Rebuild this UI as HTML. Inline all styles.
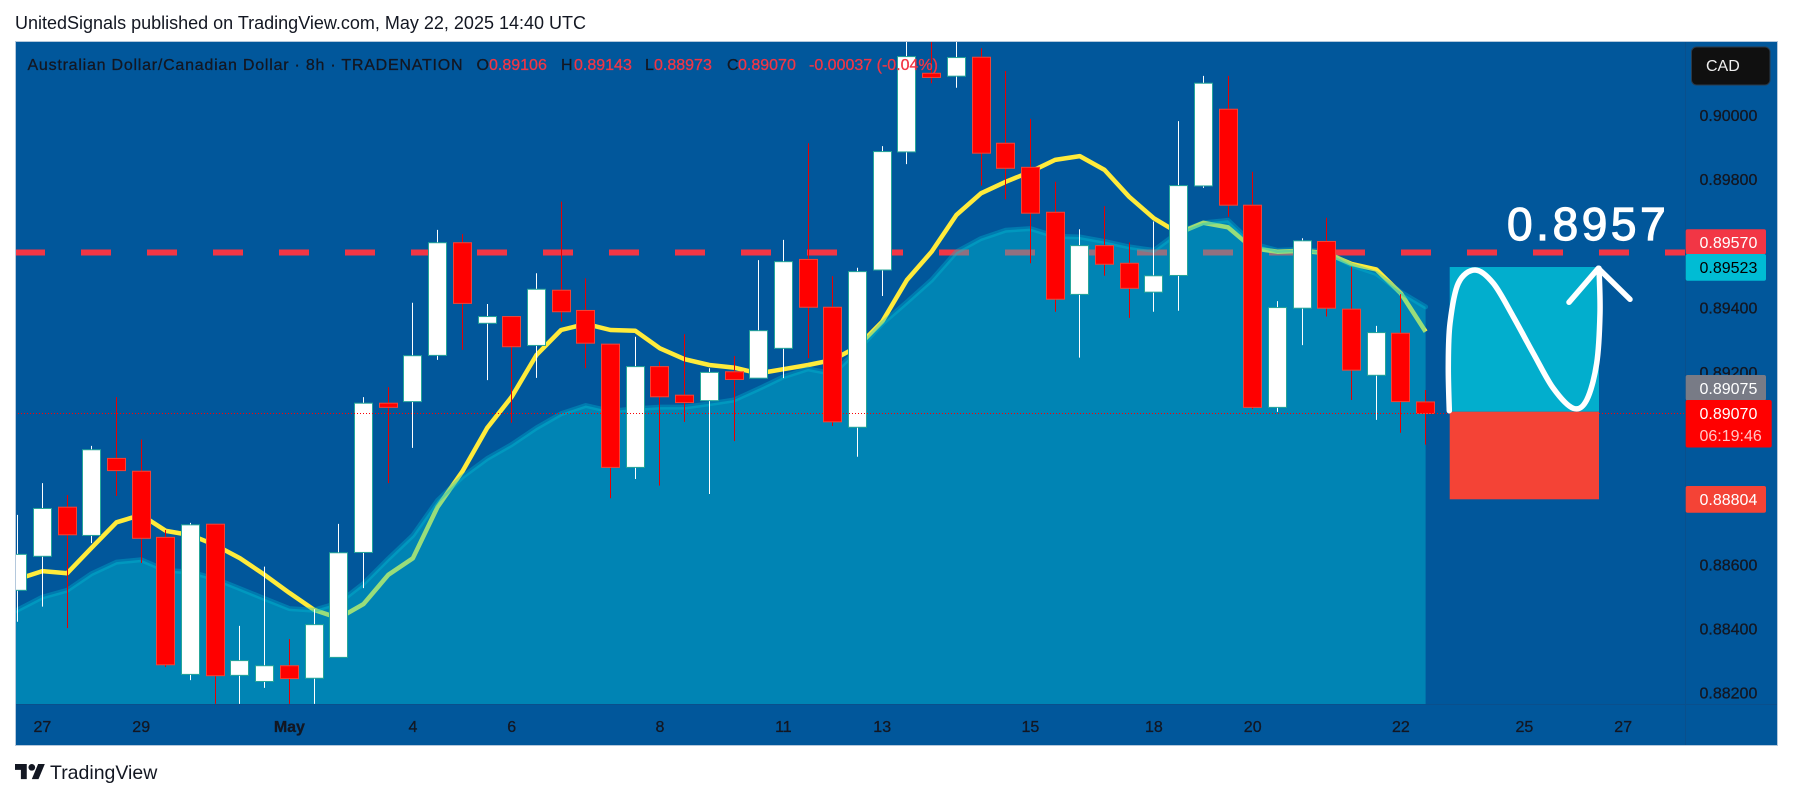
<!DOCTYPE html>
<html>
<head>
<meta charset="utf-8">
<title>AUD/CAD chart</title>
<style>
html,body{margin:0;padding:0;background:#fff;width:1793px;height:799px;overflow:hidden}
svg{display:block}
text{font-family:"Liberation Sans",sans-serif}
</style>
</head>
<body>
<svg id="chart" width="1793" height="799" viewBox="0 0 1793 799" xmlns="http://www.w3.org/2000/svg">
  <defs>
    <clipPath id="pane"><rect x="16" y="42" width="1669" height="662"/></clipPath>
  </defs>
  <rect x="0" y="0" width="1793" height="799" fill="#ffffff"/>
  <text x="15" y="29" font-size="18" fill="#131722">UnitedSignals published on TradingView.com, May 22, 2025 14:40 UTC</text>
  <rect x="15.5" y="41.5" width="1762" height="704" fill="#01579b" stroke="#b4c8dc" stroke-width="1"/>
  <g id="plot" clip-path="url(#pane)"></g>
  <line x1="16" y1="704.5" x2="1777" y2="704.5" stroke="#0a4f8c" stroke-width="1"/>
  <line x1="1685.5" y1="42" x2="1685.5" y2="745" stroke="#0a4f8c" stroke-width="1"/>

  <rect x="1449.7" y="267" width="149.3" height="144.7" fill="#02aecd"/>
  <rect x="1449.7" y="411.7" width="149.3" height="87.6" fill="#f44336"/>
  <path id="curve" fill="none" stroke="#ffffff" stroke-width="5.5" stroke-linecap="round" stroke-linejoin="round"/>
  <path d="M1569 302.3 L1598.3 268.3 L1630 299.3" fill="none" stroke="#ffffff" stroke-width="5.5" stroke-linecap="round" stroke-linejoin="round"/>
  <text x="1507" y="240" font-size="46" letter-spacing="3.6" fill="#ffffff" stroke="#ffffff" stroke-width="1.2">0.8957</text>

  <g font-size="16" stroke-width="0.3">
    <text x="27.5" y="70" fill="#131722" stroke="#131722" textLength="435">Australian Dollar/Canadian Dollar · 8h · TRADENATION</text>
    <text x="476.5" y="70" fill="#131722" stroke="#131722">O</text>
    <text x="489" y="70" fill="#f23645" stroke="#f23645">0.89106</text>
    <text x="561" y="70" fill="#131722" stroke="#131722">H</text>
    <text x="574" y="70" fill="#f23645" stroke="#f23645">0.89143</text>
    <text x="645" y="70" fill="#131722" stroke="#131722">L</text>
    <text x="654" y="70" fill="#f23645" stroke="#f23645">0.88973</text>
    <text x="727" y="70" fill="#131722" stroke="#131722">C</text>
    <text x="738" y="70" fill="#f23645" stroke="#f23645">0.89070</text>
    <text x="809" y="70" fill="#f23645" stroke="#f23645">-0.00037 (-0.04%)</text>
  </g>

  <g id="xaxis" font-size="16" fill="#131722" stroke="#131722" stroke-width="0.3"></g>
  <g id="yaxis" font-size="16" fill="#131722" stroke="#131722" stroke-width="0.3"></g>

  <g>
    <rect x="1691.5" y="47" width="78.5" height="38" rx="5" fill="#101010" stroke="#2a3a4a" stroke-width="1"/>
    <text x="1706" y="71" font-size="16" fill="#eeeeee">CAD</text>
  </g>

  <g font-size="16">
    <rect x="1685.7" y="229.3" width="80.3" height="25" rx="2" fill="#f23645"/>
    <text x="1699.5" y="248" fill="#ffffff">0.89570</text>
    <rect x="1685.7" y="254" width="80.3" height="26.7" rx="2" fill="#00bcd4"/>
    <text x="1699.5" y="273" fill="#000000">0.89523</text>
    <rect x="1685.7" y="375" width="80.3" height="25.5" rx="2" fill="#787b86"/>
    <text x="1699.5" y="394" fill="#ffffff">0.89075</text>
    <rect x="1685.7" y="400" width="86" height="47.5" rx="2" fill="#ff0000"/>
    <text x="1699.5" y="419" fill="#ffffff">0.89070</text>
    <text x="1699.5" y="441" fill="#ffc4c4">06:19:46</text>
    <rect x="1685.7" y="486" width="80.3" height="26.7" rx="2" fill="#f44336"/>
    <text x="1699.5" y="505" fill="#ffffff">0.88804</text>
  </g>

  <g transform="translate(15 760.6) scale(0.84)" fill="#131722">
    <path d="M14 22H7V11H0V4h14v18zM28 22h-8l7.5-18h8L28 22z"/>
    <circle cx="20" cy="8" r="4"/>
  </g>
  <text x="50" y="779" font-size="19.5" fill="#131722">TradingView</text>
</svg>
<script>
const opens=[.88519,.88625,.88778,.88690,.88930,.88890,.88684,.88257,.88725,.88254,.88235,.88284,.88245,.88310,.88637,.89102,.89107,.89251,.89602,.89351,.89372,.89282,.89454,.89391,.89286,.88902,.89216,.89127,.89110,.89200,.89180,.89273,.89550,.89401,.89027,.89517,.89885,.90130,.90121,.90180,.89912,.89837,.89697,.89441,.89593,.89538,.89448,.89500,.89779,.90018,.89719,.89089,.89398,.89606,.89395,.89189,.89320,.89106];
const highs=[.88754,.88853,.88816,.88969,.89121,.88989,.88707,.88729,.88725,.88408,.88593,.88367,.88460,.88726,.89121,.89152,.89415,.89642,.89629,.89411,.89372,.89507,.89730,.89491,.89286,.89309,.89231,.89317,.89211,.89249,.89548,.89611,.89912,.89498,.89524,.89903,.90231,.90231,.90231,.90208,.90137,.89988,.89792,.89644,.89716,.89603,.89668,.89981,.90122,.90122,.89823,.89420,.89616,.89680,.89527,.89343,.89442,.89143];
const lows=[.88421,.88468,.88401,.88666,.88813,.88604,.88280,.88239,.88165,.88165,.88215,.88165,.88165,.88310,.88526,.88853,.88963,.89237,.89268,.89174,.89041,.89181,.89356,.89211,.88806,.88866,.88845,.89044,.88819,.88984,.89180,.89180,.89242,.89031,.88935,.89436,.89847,.90099,.90085,.89780,.89737,.89538,.89387,.89244,.89499,.89368,.89387,.89390,.89773,.89683,.89084,.89075,.89283,.89372,.89112,.89050,.89010,.88973];
const closes=[.88631,.88774,.88692,.88957,.88892,.88681,.88287,.88723,.88253,.88300,.88284,.88244,.88412,.88636,.89102,.89089,.89250,.89602,.89413,.89372,.89278,.89457,.89387,.89289,.88902,.89216,.89122,.89104,.89198,.89176,.89328,.89543,.89401,.89044,.89512,.89886,.90182,.90117,.90179,.89881,.89834,.89694,.89426,.89593,.89535,.89460,.89499,.89780,.90099,.89719,.89089,.89400,.89608,.89398,.89205,.89322,.89107,.89070];
const fastAverage=[.88554,.88579,.88572,.88652,.88731,.88754,.88704,.88691,.88660,.88619,.88567,.88511,.88458,.88432,.88476,.88567,.88619,.88779,.88889,.89024,.89122,.89252,.89330,.89349,.89330,.89328,.89273,.89239,.89221,.89213,.89195,.89208,.89221,.89237,.89278,.89356,.89486,.89574,.89688,.89756,.89792,.89823,.89860,.89872,.89829,.89745,.89678,.89632,.89664,.89650,.89585,.89574,.89577,.89569,.89536,.89519,.89444,.89325];
const slowAverage=[.88458,.88498,.88519,.88571,.88607,.88614,.88581,.88576,.88555,.88524,.88493,.88462,.88457,.88480,.88540,.88617,.88690,.88799,.88872,.88929,.88973,.89025,.89069,.89095,.89077,.89085,.89090,.89090,.89100,.89112,.89147,.89184,.89209,.89194,.89267,.89350,.89417,.89486,.89573,.89615,.89641,.89646,.89622,.89620,.89606,.89589,.89578,.89635,.89664,.89672,.89599,.89578,.89582,.89573,.89532,.89506,.89448,.89402];
const fastBeforeChart=0.88530;
const slowBeforeChart=0.88425;
const priceTicks=[0.90000,0.89800,0.89600,0.89400,0.89200,0.89000,0.88800,0.88600,0.88400,0.88200];
const timeLabels=["27","29","May","4","6","8","11","13","15","18","20","22","25","27"];
const timeBars=[1,5,11,16,20,26,31,35,41,46,50,56,61,65];
const resistanceLevel=0.8957;
const lastPrice=0.8907;

const SVG_NS="http://www.w3.org/2000/svg";
function xScale(i){return 17.2+24.7*i;}
function yScale(p){return 115+(0.9-p)*32094;}
function pathFrom(values,before){
  let d="M"+xScale(-1).toFixed(1)+" "+yScale(before).toFixed(1)+" ";
  for(let i=0;i<values.length;i++){
    d+="L"+(xScale(i)+0.5).toFixed(1)+" "+yScale(values[i]).toFixed(1)+" ";
  }
  return d;
}
function mk(tag,attrs,parent){
  const el=document.createElementNS(SVG_NS,tag);
  for(const k in attrs){el.setAttribute(k,attrs[k]);}
  parent.appendChild(el);
  return el;
}
const plot=document.getElementById("plot");

const resistance=mk("line",{x1:15,x2:1685,y1:yScale(resistanceLevel)-0.5,y2:yScale(resistanceLevel)-0.5,stroke:"#f23645","stroke-width":6,"stroke-dasharray":"30 36"},plot);



const fastLine=mk("path",{d:pathFrom(fastAverage,fastBeforeChart),fill:"none",stroke:"#ffeb3b","stroke-width":4.5,"stroke-linejoin":"round"},plot);



const lastX=xScale(slowAverage.length-1)+0.5;
const slowFill=mk("path",{d:pathFrom(slowAverage,slowBeforeChart)+"L"+lastX.toFixed(1)+" 704 L"+xScale(-1).toFixed(1)+" 704 Z",fill:"#00c8d9","fill-opacity":0.4},plot);


const slowLine=mk("path",{d:pathFrom(slowAverage,slowBeforeChart),fill:"none",stroke:"#00bcd4","stroke-opacity":0.35,"stroke-width":5,"stroke-linecap":"round","stroke-linejoin":"round"},plot);



for(let i=0;i<opens.length;i++){
  const up=closes[i]>=opens[i];
  const x=Math.round(xScale(i));
  const wick=mk("line",{x1:x+0.5,x2:x+0.5,y1:yScale(highs[i]),y2:yScale(lows[i]),stroke:up?"#ffffff":"#e80000","stroke-width":1},plot);
  
  
  const top=yScale(Math.max(opens[i],closes[i]));
  const bottom=yScale(Math.min(opens[i],closes[i]));
  const body=mk("rect",{x:x-8.5,y:top,width:18,height:Math.max(bottom-top,1),fill:up?"#ffffff":"#ff0000",stroke:up?"#26a69a":"#f44336","stroke-width":1},plot);
  
  
}

const lastLine=mk("line",{x1:15,x2:1685,y1:yScale(lastPrice),y2:yScale(lastPrice),stroke:"#ff0000","stroke-width":1,"stroke-dasharray":"1 2"},plot);



const xaxis=document.getElementById("xaxis");
for(let i=0;i<timeLabels.length;i++){
  const t=mk("text",{x:xScale(timeBars[i])+0.5,y:732,"text-anchor":"middle"},xaxis);
  
  
  if(timeLabels[i]==="May"){t.setAttribute("font-weight","bold");}
  t.textContent=timeLabels[i];
}
const yaxis=document.getElementById("yaxis");
for(let i=0;i<priceTicks.length;i++){
  const t=mk("text",{x:1699.5,y:yScale(priceTicks[i])+6},yaxis);
  
  
  t.textContent=priceTicks[i].toFixed(5);
}

const curvePoints=[[1449.3,410.7],[1448.3,366.7],[1450,323.3],[1458.3,283.3],[1475,270],[1493.3,283.3],[1513.3,316.7],[1533.3,353.3],[1553.3,388.3],[1573.3,408.3],[1586.7,400],[1596.7,363.3],[1600,313.3],[1599,268.3]];
let cd="M"+curvePoints[0][0]+" "+curvePoints[0][1];
for(let i=0;i<curvePoints.length-1;i++){
  const p0=curvePoints[Math.max(i-1,0)],p1=curvePoints[i],p2=curvePoints[i+1],p3=curvePoints[Math.min(i+2,curvePoints.length-1)];
  cd+=" C"+(p1[0]+(p2[0]-p0[0])/6).toFixed(1)+" "+(p1[1]+(p2[1]-p0[1])/6).toFixed(1)+" "+(p2[0]-(p3[0]-p1[0])/6).toFixed(1)+" "+(p2[1]-(p3[1]-p1[1])/6).toFixed(1)+" "+p2[0]+" "+p2[1];
}
document.getElementById("curve").setAttribute("d",cd);
</script>
</body>
</html>
